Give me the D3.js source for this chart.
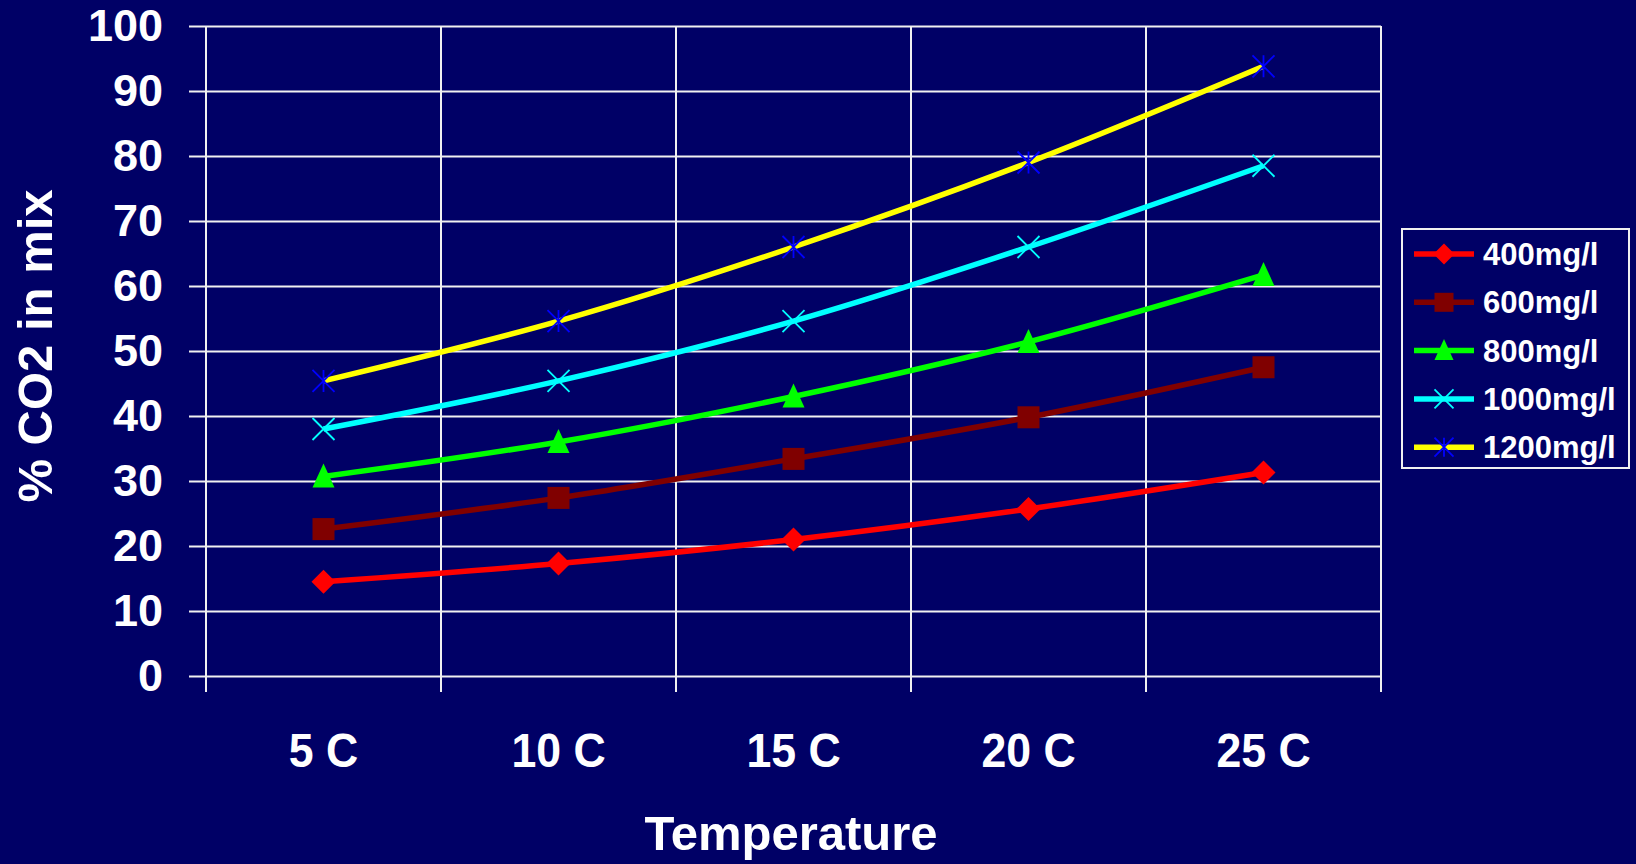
<!DOCTYPE html>
<html>
<head>
<meta charset="utf-8">
<script src="https://cdn.jsdelivr.net/npm/d3@7"></script>
<style>
  html, body { margin: 0; padding: 0; background: #000066; }
  svg { display: block; font-family: "Liberation Sans", Arial, sans-serif; font-weight: bold; }
</style>
</head>
<body>
<div class="chart"></div>
<script>
const temps = ["5 C", "10 C", "15 C", "20 C", "25 C"];
const yTicks = [0, 10, 20, 30, 40, 50, 60, 70, 80, 90, 100];
const seriesNames = ["400mg/l", "600mg/l", "800mg/l", "1000mg/l", "1200mg/l"];
const seriesColors = ["#ff0000", "#800000", "#00ff00", "#00ffff", "#ffff00"];
const markerColors = ["#ff0000", "#800000", "#00ff00", "#00ffff", "#0000ff"];
const markerTypes = ["diamond", "square", "triangle", "x", "star"];
const values400 = [14.5, 17.3, 21.0, 25.7, 31.3];
const values600 = [22.6, 27.4, 33.4, 39.8, 47.5];
const values800 = [30.7, 36.0, 43.0, 51.4, 61.7];
const values1000 = [38.0, 45.4, 54.6, 66.0, 78.5];
const values1200 = [45.4, 54.6, 66.0, 79.0, 93.8];
const allValues = [values400, values600, values800, values1000, values1200];

const dims = {
    width: 1636,
    height: 864,
    margin: {left: 206, right: 255, top: 26, bottom: 188}
};

const svg = d3.select('.chart')
    .append('svg')
    .attr('width', dims.width)
    .attr('height', dims.height);

svg.append('rect')
    .attr('width', dims.width)
    .attr('height', dims.height)
    .attr('fill', '#000066');

const x = d3.scaleBand()
    .domain(temps)
    .range([dims.margin.left, dims.width - dims.margin.right])
    .paddingInner(0)
    .paddingOuter(0);

const y = d3.scaleLinear()
    .domain([0, 100])
    .range([dims.height - dims.margin.bottom, dims.margin.top]);

const gridColor = "#f0f0f0";
const x0 = x.range()[0], x1 = x.range()[1];

// horizontal gridlines + y ticks
svg.append('g')
    .attr('transform', `translate(${x0},0)`)
    .call(d3.axisLeft(y).tickValues(yTicks).tickSize(17).tickPadding(26).tickFormat(d3.format('d')))
    .call(g => g.select('.domain').remove())
    .call(g => g.selectAll('.tick line').attr('stroke', gridColor).attr('stroke-width', 2)
        .attr('x2', -17).attr('x1', x1 - x0))
    .call(g => g.selectAll('.tick text')
        .attr('fill', 'white')
        .style('font', 'bold 45px "Liberation Sans", Arial, sans-serif'));

// vertical gridlines at category boundaries
const bounds = temps.map(t => x(t)).concat([x1]);
svg.append('g')
    .selectAll('line')
    .data(bounds)
    .join('line')
    .attr('x1', d => d).attr('x2', d => d)
    .attr('y1', y(100)).attr('y2', y(0) + 16)
    .attr('stroke', gridColor)
    .attr('stroke-width', 2);

// x tick labels
svg.append('g')
    .selectAll('text')
    .data(temps)
    .join('text')
    .attr('x', d => x(d) + x.bandwidth() / 2)
    .attr('y', 767)
    .attr('text-anchor', 'middle')
    .attr('fill', 'white')
    .attr('transform', d => `translate(${x(d) + x.bandwidth() / 2},767) scale(0.97,1.06) translate(${-(x(d) + x.bandwidth() / 2)},-767)`)
    .style('font-size', '46px')
    .text(d => d);

// axis titles
svg.append('text')
    .attr('x', 791)
    .attr('y', 850)
    .attr('text-anchor', 'middle')
    .attr('fill', 'white')
    .style('font-size', '49px')
    .text('Temperature');

svg.append('text')
    .attr('transform', 'translate(52,346) rotate(-90)')
    .attr('text-anchor', 'middle')
    .attr('fill', 'white')
    .style('font-size', '49px')
    .text('% CO2 in mix');

const line = d3.line()
    .x((d, i) => x(temps[i]) + x.bandwidth() / 2)
    .y(d => y(d))
    .curve(d3.curveCatmullRom.alpha(0.5));

function drawMarker(g, type, color, size) {
    const h = size / 2;
    if (type === 'diamond') {
        g.append('path').attr('d', `M0,${-h - 1}L${h + 1},0L0,${h + 1}L${-h - 1},0Z`).attr('fill', color);
    } else if (type === 'square') {
        g.append('rect').attr('x', -h).attr('y', -h).attr('width', size).attr('height', size).attr('fill', color);
    } else if (type === 'triangle') {
        g.append('path').attr('d', `M0,${-h - 2}L${h},${h}L${-h},${h}Z`).attr('fill', color);
    } else if (type === 'x') {
        g.append('path').attr('d', `M${-h},${-h}L${h},${h}M${h},${-h}L${-h},${h}`)
            .attr('stroke', color).attr('stroke-width', 1.8).attr('fill', 'none');
    } else if (type === 'star') {
        g.append('path').attr('d', `M${-h},${-h}L${h},${h}M${h},${-h}L${-h},${h}M0,${-h}L0,${h}`)
            .attr('stroke', color).attr('stroke-width', 1.8).attr('fill', 'none');
    }
}

const seriesG = svg.append('g')
    .selectAll('g')
    .data(allValues)
    .join('g');

seriesG.append('path')
    .attr('d', d => line(d))
    .attr('fill', 'none')
    .attr('stroke', (d, i) => seriesColors[i])
    .attr('stroke-width', 5.5)
    .attr('stroke-linejoin', 'round');

seriesG.each(function (vals, si) {
    const g = d3.select(this);
    vals.forEach((v, i) => {
        const m = g.append('g')
            .attr('transform', `translate(${x(temps[i]) + x.bandwidth() / 2},${y(v)})`);
        drawMarker(m, markerTypes[si], markerColors[si], 22);
    });
});

// legend
const legend = svg.append('g');
legend.append('rect')
    .attr('x', 1402).attr('y', 229)
    .attr('width', 227).attr('height', 239)
    .attr('fill', 'none')
    .attr('stroke', gridColor)
    .attr('stroke-width', 2);

const rows = legend.selectAll('g.row')
    .data(seriesNames)
    .join('g')
    .attr('class', 'row')
    .attr('transform', (d, i) => `translate(0,${254 + i * 48.3})`);

rows.append('line')
    .attr('x1', 1414).attr('x2', 1474)
    .attr('stroke', (d, i) => seriesColors[i])
    .attr('stroke-width', 5.5);

rows.each(function (d, i) {
    const m = d3.select(this).append('g').attr('transform', 'translate(1444,0)');
    drawMarker(m, markerTypes[i], markerColors[i], 19);
});

rows.append('text')
    .attr('x', 1483)
    .attr('dy', '0.36em')
    .attr('fill', 'white')
    .style('font-size', '31px')
    .text(d => d);
</script>
</body>
</html>
